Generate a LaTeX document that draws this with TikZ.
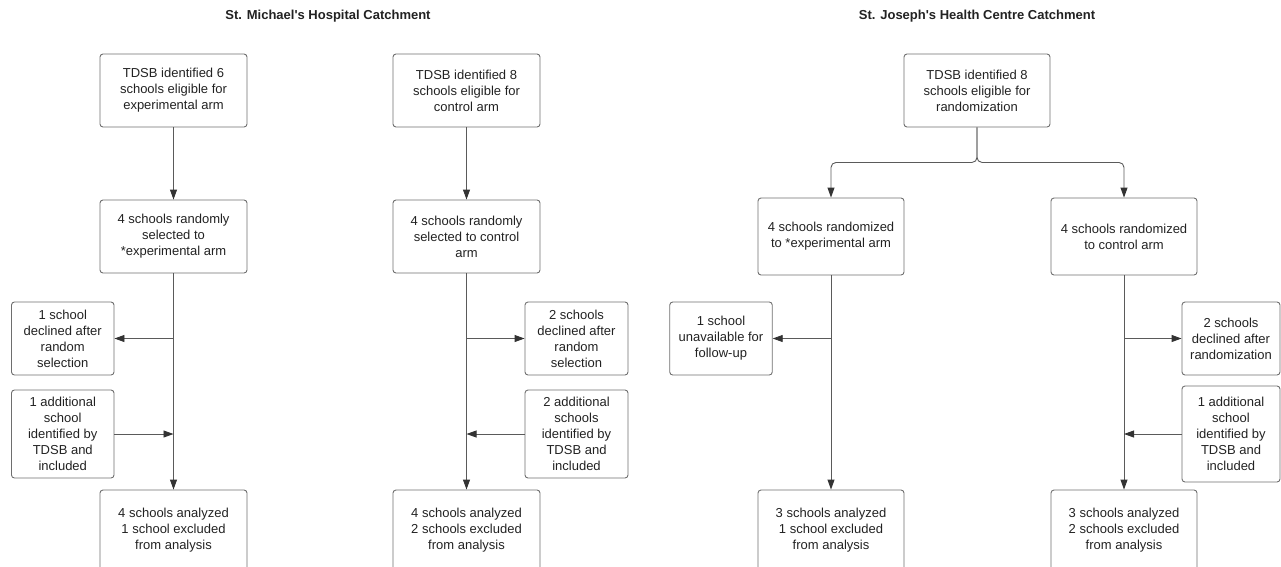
\documentclass[tikz,border=0pt]{standalone}
\usepackage{fontspec}
\setmainfont{Liberation Sans}
\usetikzlibrary{arrows.meta}
\definecolor{txt}{HTML}{222222}
\definecolor{bord}{HTML}{6E6E6E}
\definecolor{lin}{HTML}{5A5A5A}
\definecolor{tip}{HTML}{333333}
\begin{document}
\begin{tikzpicture}[x=1pt,y=-1pt,
  box/.style={draw=bord,line width=0.9pt,rounded corners=3pt,align=center,inner sep=0pt,
    text=txt,font=\fontsize{13}{16}\selectfont},
  bigbox/.style={box,minimum width=147pt,minimum height=73pt},
  sidebox/.style={box,minimum width=102.5pt},
  botbox/.style={box,minimum width=147pt,minimum height=80pt},
  title/.style={font=\fontsize{13}{16}\selectfont\bfseries,text=txt,inner sep=0pt},
  arr/.style={draw=lin,line width=0.9pt,-{Triangle[length=10pt,width=7pt,color=tip]}}
]
\useasboundingbox (0,0) rectangle (1281,566);
\clip (0,0) rectangle (1281,566);

\node[title] (t1) at (328,16) {St. Michael\textquotesingle s Hospital Catchment};
\node[title] (t2) at (977,16) {St. Joseph\textquotesingle s Health Centre Catchment};

% Column A
\node[bigbox] (A1) at (173.5,90.5) {TDSB identified 6\\schools eligible for\\experimental arm};
\node[bigbox] (A2) at (173.5,236.5) {4 schools randomly\\selected to\\*experimental arm};
\node[sidebox,minimum height=73pt] (A3) at (62.75,338.5) {1 school\\declined after\\random\\selection};
\node[sidebox,minimum height=88pt] (A4) at (62.75,434) {1 additional\\school\\identified by\\TDSB and\\included};
\node[botbox] (A5) at (173.5,530) {4 schools analyzed\\1 school excluded\\from analysis};

% Column B
\node[bigbox] (B1) at (466.5,90.5) {TDSB identified 8\\schools eligible for\\control arm};
\node[bigbox] (B2) at (466.5,236.5) {4 schools randomly\\selected to control\\arm};
\node[sidebox,minimum width=103pt,minimum height=73pt] (B3) at (576.5,338.5) {2 schools\\declined after\\random\\selection};
\node[sidebox,minimum width=103pt,minimum height=88pt] (B4) at (576.5,434) {2 additional\\schools\\identified by\\TDSB and\\included};
\node[botbox] (B5) at (466.5,530) {4 schools analyzed\\2 schools excluded\\from analysis};

% Column C/D
\node[bigbox,minimum width=146pt] (C1) at (977,90.5) {TDSB identified 8\\schools eligible for\\randomization};
\node[bigbox,minimum width=146pt,minimum height=77pt] (C2) at (831,236.5) {4 schools randomized\\to *experimental arm};
\node[bigbox,minimum width=146pt,minimum height=77pt] (C3) at (1124,236.5) {4 schools randomized\\to control arm};
\node[sidebox,minimum height=73pt] (C4) at (721,338.5) {1 school\\unavailable for\\follow-up};
\node[botbox,minimum width=146pt] (C5) at (831,530) {3 schools analyzed\\1 school excluded\\from analysis};
\node[sidebox,minimum width=98pt,minimum height=73pt] (D3) at (1231,338.5) {2 schools\\declined after\\randomization};
\node[sidebox,minimum width=98pt,minimum height=96pt] (D4) at (1231,434) {1 additional\\school\\identified by\\TDSB and\\included};
\node[botbox,minimum width=146pt] (D5) at (1124,530) {3 schools analyzed\\2 schools excluded\\from analysis};

% junction coordinates
\coordinate (a3j) at (A2.south |- A3.east);
\coordinate (a4j) at (A2.south |- A4.east);
\coordinate (b3j) at (B2.south |- B3.west);
\coordinate (b4j) at (B2.south |- B4.west);
\coordinate (c4j) at (C2.south |- C4.east);
\coordinate (d3j) at (C3.south |- D3.west);
\coordinate (d4j) at (C3.south |- D4.west);

% connectors A
\draw[arr] (A1.south) -- (A2.north);
\draw[arr] (A2.south) -- (A5.north);
\draw[arr] (a3j) -- (A3.east);
\draw[arr] (A4.east) -- (a4j);
% connectors B
\draw[arr] (B1.south) -- (B2.north);
\draw[arr] (B2.south) -- (B5.north);
\draw[arr] (b3j) -- (B3.west);
\draw[arr] (B4.west) -- (b4j);
% connectors C/D
\draw[arr,rounded corners=5pt] (C1.south) -- ++(0,35) -| (C2.north);
\draw[arr,rounded corners=5pt] (C1.south) -- ++(0,35) -| (C3.north);
\draw[arr] (C2.south) -- (C5.north);
\draw[arr] (c4j) -- (C4.east);
\draw[arr] (C3.south) -- (D5.north);
\draw[arr] (d3j) -- (D3.west);
\draw[arr] (D4.west) -- (d4j);
\end{tikzpicture}
\end{document}
